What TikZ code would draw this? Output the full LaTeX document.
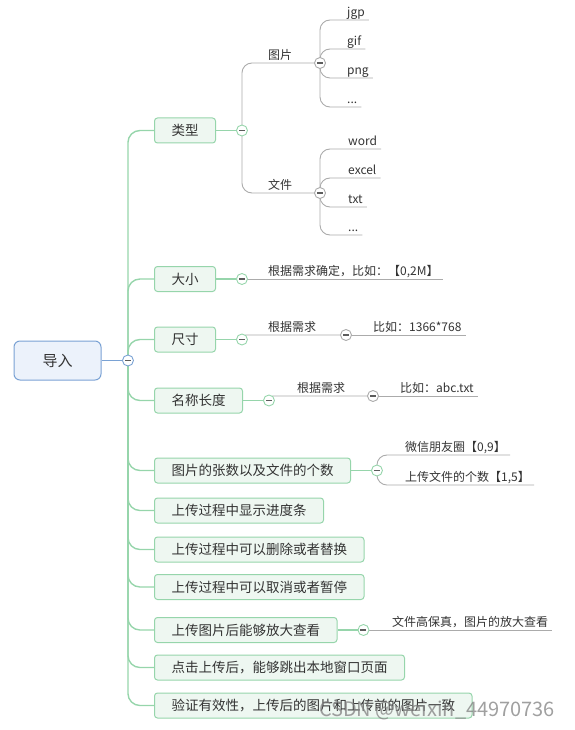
\documentclass[tikz,border=0pt]{standalone}
\usepackage{fontspec}
\setmainfont{Noto Sans CJK SC}
\usetikzlibrary{positioning, backgrounds}

\definecolor{rootblue}{HTML}{7AA2D4}
\definecolor{rootfill}{HTML}{ECF2FB}
\definecolor{topicgreen}{HTML}{96D5AB}
\definecolor{topicfill}{HTML}{EEF7F1}
\definecolor{twiggray}{HTML}{ABABAB}
\definecolor{inkgray}{HTML}{333333}

\begin{document}
\begin{tikzpicture}[x=1pt, y=-1pt,
    every node/.style={text=inkgray},
    rootbox/.style={draw=rootblue, fill=rootfill, rounded corners=6pt, line width=1pt,
        minimum width=87pt, minimum height=39pt, font=\fontsize{15}{15}\selectfont},
    topic/.style={draw=topicgreen, fill=topicfill, rounded corners=3pt, line width=1pt,
        anchor=west, inner xsep=17pt, minimum height=25pt, font=\fontsize{13.5}{14}\selectfont},
    leaf/.style={anchor=south west, inner xsep=4pt, inner ysep=1.5pt,
        text height=0.8em, text depth=0.15em, font=\fontsize{12}{12}\selectfont},
    fold/.style={circle, draw=#1, fill=white, line width=0.9pt, minimum size=11pt, inner sep=0pt,
        path picture={\fill[inkgray!80] ([xshift=-3pt,yshift=-0.8pt]path picture bounding box.center)
            rectangle ([xshift=3pt,yshift=0.8pt]path picture bounding box.center);}},
    rootline/.style={draw=rootblue, line width=1.4pt},
    trunk/.style={draw=topicgreen, line width=1.4pt, rounded corners=12pt},
    twig/.style={draw=twiggray, line width=0.9pt, rounded corners=10pt},
    watermark/.style={text=gray, text opacity=0.75, font=\fontsize{20}{20}\selectfont}]

\useasboundingbox (0,0) rectangle (574,730);

\node[rootbox] (root) at (57.5,360.5) {导入};
\node[fold=rootblue, right=20.5pt of root] (froot) {};

% main topics
\node[topic] (lx) at (154,130.5) {类型};
\node[topic] (dx) at (154,279) {大小};
\node[topic] (cc) at (154,339.5) {尺寸};
\node[topic] (mc) at (154,400.5) {名称长度};
\node[topic] (zs) at (154,470.5) {图片的张数以及文件的个数};
\node[topic] (jd) at (154,510.5) {上传过程中显示进度条};
\node[topic] (sc) at (154,549.5) {上传过程中可以删除或者替换};
\node[topic] (qx) at (154,587) {上传过程中可以取消或者暂停};
\node[topic] (fd) at (154,630) {上传图片后能够放大查看};
\node[topic] (dj) at (154,667.5) {点击上传后，能够跳出本地窗口页面};
\node[topic] (yz) at (154,705.5) {验证有效性，上传后的图片和上传前的图片一致};

\foreach \t in {lx,dx,cc,mc,zs,fd}
    \node[fold=topicgreen, right=20pt of \t] (f\t) {};

% 类型
\node[leaf] (tp) at (264,63) {图片};
\node[fold=twiggray] (ftp) at (320,63) {};
\node[leaf] (jgp) at (343,20) {jgp};
\node[leaf] (gif) at (343,49) {gif};
\node[leaf] (png) at (343,78) {png};
\node[leaf] (tpm) at (343,107) {...};
\node[leaf] (wj) at (264,193) {文件};
\node[fold=twiggray] (fwj) at (320,193) {};
\node[leaf] (word) at (344,149) {word};
\node[leaf] (excel) at (344,178) {excel};
\node[leaf] (txt) at (344,207) {txt};
\node[leaf] (wjm) at (344,235) {...};

% 大小, 尺寸, 名称长度
\node[leaf] (dxq) at (264,279) {根据需求确定，比如：【0,2M】};
\node[leaf] (ccq) at (264,335) {根据需求};
\node[fold=twiggray] (fccq) at (346,335) {};
\node[leaf] (ccl) at (369,335) {比如：1366*768};
\node[leaf] (mcq) at (293,396) {根据需求};
\node[fold=twiggray] (fmcq) at (373,396) {};
\node[leaf] (mcl) at (396,396) {比如：abc.txt};

% 张数, 放大
\node[leaf] (pyq) at (401,455) {微信朋友圈【0,9】};
\node[leaf] (wjs) at (401,485) {上传文件的个数【1,5】};
\node[leaf] (gbz) at (388,630) {文件高保真，图片的放大查看};

\node[watermark] (wm) at (437,710) {CSDN @weixin\_44970736};

\begin{scope}[on background layer]
    \draw[rootline] (root) -- (froot);
    \foreach \t in {lx,dx,cc,mc,zs,jd,sc,qx,fd,dj,yz}
        \draw[trunk] (froot.center) |- (\t.west);
    \foreach \t in {lx,dx,cc,mc,zs,fd}
        \draw[trunk] (\t.east) -- (f\t);

    \draw[twig] (flx.center) |- (ftp.center);
    \draw[twig] (flx.center) |- (fwj.center);
    \foreach \l in {jgp,gif,png,tpm}
        \draw[twig] (ftp.center) |- (\l.south east);
    \foreach \l in {word,excel,txt,wjm}
        \draw[twig] (fwj.center) |- (\l.south east);

    \draw[twig] (fdx.center) -- (dxq.south east);
    \draw[twig, rounded corners=4pt] (fcc.center) |- (fccq.center);
    \draw[twig] (fccq.center) -- (ccl.south east);
    \draw[twig, rounded corners=4pt] (fmc.center) |- (fmcq.center);
    \draw[twig] (fmcq.center) -- (mcl.south east);

    \draw[twig] (fzs.center) |- (pyq.south east);
    \draw[twig] (fzs.center) |- (wjs.south east);
    \draw[twig] (ffd.center) -- (gbz.south east);
\end{scope}
\end{tikzpicture}
\end{document}
